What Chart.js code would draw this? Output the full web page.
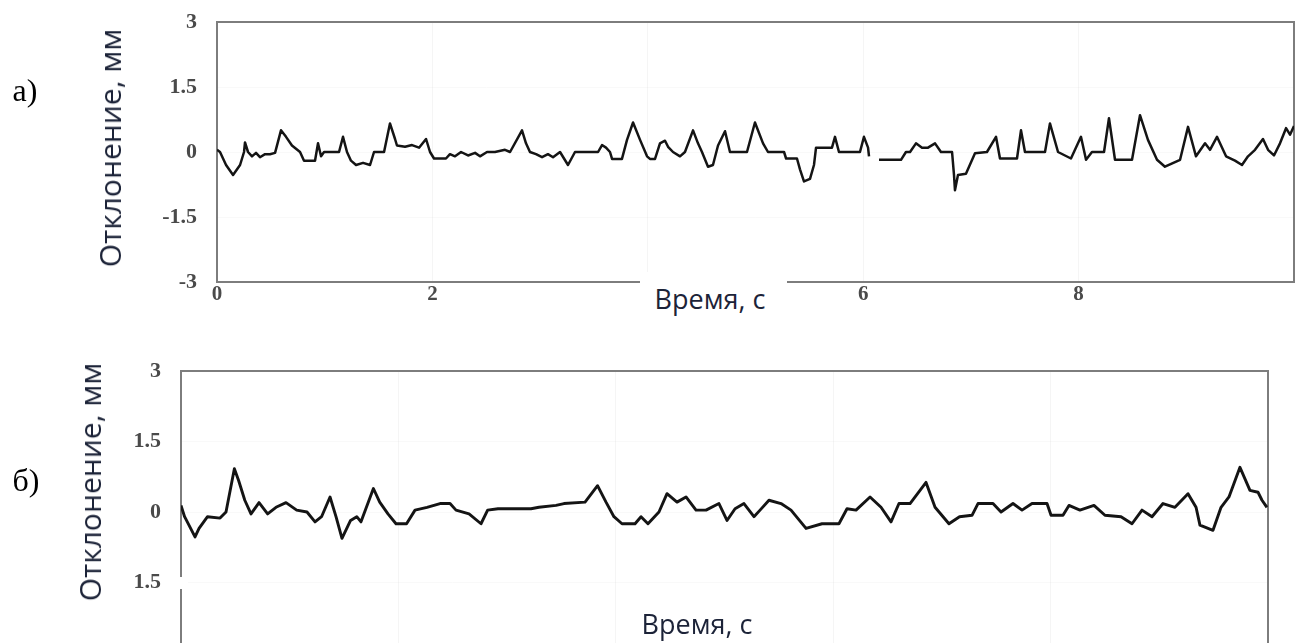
<!DOCTYPE html>
<html>
<head>
<meta charset="utf-8">
<script src="https://cdn.jsdelivr.net/npm/chart.js@4.4.1/dist/chart.umd.min.js"></script>
<style>
  html, body { margin: 0; padding: 0; background: #ffffff; overflow: hidden; width: 1296px; height: 643px; }
  #wrapA { position: absolute; left: 0; top: 0; width: 1296px; height: 320px; }
  #wrapB { position: absolute; left: 0; top: 320px; width: 1296px; height: 345px; }
  canvas { display: block; }
  .lbl { position: absolute; white-space: nowrap; line-height: 1; transform: translate(-50%, -50%); }
  .panel { font-family: "Liberation Serif", "Times New Roman", serif; font-size: 32px; color: #000; }
  .ytitle { font-family: "Open Sans", "Noto Sans", sans-serif; font-size: 30px; color: #1c2338; transform: translate(-50%, -50%) rotate(-90deg); }
  .xtitle { font-family: "Open Sans", "Noto Sans", sans-serif; font-size: 27px; color: #1c2338; background: #ffffff; }
  .gap { position: absolute; background: #ffffff; }
</style>
</head>
<body>
<div id="wrapA"><canvas id="chartA" width="1296" height="320"></canvas></div>
<div id="wrapB"><canvas id="chartB" width="1296" height="345"></canvas></div>

<div class="lbl panel" style="left:25px; top:90px;">а)</div>
<div class="lbl panel" style="left:26px; top:480px;">б)</div>
<div class="lbl ytitle" style="left:110px; top:148px;">Отклонение, мм</div>
<div class="lbl ytitle" style="left:90px; top:482px;">Отклонение, мм</div>
<div class="gap" style="left:640px; top:272px; width:147px; height:46px;"></div>
<div class="lbl xtitle" style="left:710px; top:298px;">Время, с</div>
<div class="lbl xtitle" style="left:697px; top:623px;">Время, с</div>
<div class="gap" style="left:174px; top:577px; width:14px; height:12px;"></div>

<script>
// ---------- DATA ----------
// Panel a): time (s) and deviation (mm)
const TIME_A = [
  0.000, 0.028, 0.084, 0.149, 0.214, 0.251, 0.260, 0.288, 0.325, 0.362,
  0.399, 0.446, 0.492, 0.539, 0.594, 0.641, 0.696, 0.771, 0.808, 0.910,
  0.938, 0.966, 0.994, 1.040, 1.133, 1.170, 1.207, 1.244, 1.291, 1.356,
  1.421, 1.458, 1.551, 1.606, 1.653, 1.671, 1.746, 1.811, 1.876, 1.941,
  1.978, 2.015, 2.126, 2.163, 2.210, 2.266, 2.331, 2.396, 2.442, 2.507,
  2.581, 2.674, 2.721, 2.832, 2.869, 2.906, 2.962, 3.018, 3.073, 3.120,
  3.185, 3.259, 3.324, 3.538, 3.575, 3.612, 3.649, 3.668, 3.760, 3.807,
  3.863, 3.928, 3.993, 4.020, 4.067, 4.113, 4.160, 4.188, 4.234, 4.299,
  4.345, 4.420, 4.466, 4.503, 4.559, 4.605, 4.652, 4.717, 4.763, 4.921,
  4.995, 5.070, 5.116, 5.265, 5.284, 5.385, 5.413, 5.450, 5.506, 5.543,
  5.562, 5.710, 5.738, 5.775, 5.970, 6.007, 6.045, 6.054, 6.100, 6.147,
  6.351, 6.397, 6.435, 6.490, 6.546, 6.602, 6.667, 6.722, 6.825, 6.843,
  6.852, 6.880, 6.954, 7.038, 7.149, 7.233, 7.270, 7.428, 7.465, 7.502,
  7.688, 7.734, 7.809, 7.929, 8.022, 8.069, 8.124, 8.236, 8.282, 8.338,
  8.496, 8.570, 8.644, 8.728, 8.802, 8.942, 9.016, 9.090, 9.174, 9.220,
  9.285, 9.369, 9.452, 9.517, 9.573, 9.638, 9.712, 9.759, 9.814, 9.870,
  9.926, 9.963, 10.000
];
const DEV_A = [
  0.05, 0.00, -0.30, -0.53, -0.30, 0.00, 0.22, 0.00, -0.10, -0.02,
  -0.12, -0.05, -0.05, -0.02, 0.50, 0.35, 0.15, 0.00, -0.20, -0.20,
  0.20, -0.10, 0.00, 0.00, 0.00, 0.35, 0.00, -0.20, -0.30, -0.25,
  -0.30, 0.00, 0.00, 0.66, 0.30, 0.15, 0.12, 0.16, 0.10, 0.30,
  0.00, -0.15, -0.15, -0.05, -0.10, 0.00, -0.08, -0.02, -0.10, 0.00,
  0.00, 0.05, 0.00, 0.50, 0.20, 0.00, -0.05, -0.12, -0.05, -0.12,
  0.00, -0.30, 0.00, 0.00, 0.16, 0.10, 0.00, -0.16, -0.16, 0.28,
  0.68, 0.28, -0.10, -0.16, -0.16, 0.20, 0.26, 0.12, 0.00, -0.10,
  0.00, 0.50, 0.20, 0.00, -0.34, -0.30, 0.15, 0.48, 0.00, 0.00,
  0.68, 0.20, 0.00, 0.00, -0.15, -0.15, -0.40, -0.68, -0.62, -0.30,
  0.10, 0.10, 0.35, 0.00, 0.00, 0.35, 0.10, -0.10, null, -0.18,
  -0.18, 0.00, 0.00, 0.20, 0.10, 0.10, 0.20, 0.00, 0.00, -0.53,
  -0.88, -0.53, -0.50, -0.03, 0.00, 0.35, -0.15, -0.15, 0.50, 0.00,
  0.00, 0.66, 0.00, -0.15, 0.35, -0.18, 0.00, 0.00, 0.78, -0.18,
  -0.18, 0.85, 0.28, -0.18, -0.34, -0.18, 0.58, -0.10, 0.20, 0.05,
  0.35, -0.10, -0.20, -0.30, -0.10, 0.05, 0.30, 0.05, -0.08, 0.20,
  0.55, 0.40, 0.60
];

// Panel б): time (s) and deviation (mm)
const TIME_B = [
  0.000, 0.033, 0.129, 0.166, 0.244, 0.359, 0.414, 0.491, 0.530, 0.587,
  0.644, 0.718, 0.797, 0.874, 0.966, 1.064, 1.159, 1.233, 1.293, 1.371,
  1.426, 1.481, 1.560, 1.617, 1.656, 1.770, 1.828, 1.904, 1.978, 2.075,
  2.153, 2.263, 2.383, 2.475, 2.530, 2.650, 2.760, 2.821, 2.916, 3.220,
  3.293, 3.450, 3.523, 3.717, 3.832, 3.910, 3.983, 4.057, 4.177, 4.232,
  4.296, 4.397, 4.471, 4.563, 4.646, 4.738, 4.830, 4.949, 5.023, 5.097,
  5.179, 5.271, 5.327, 5.409, 5.520, 5.612, 5.750, 5.897, 6.053, 6.127,
  6.210, 6.339, 6.440, 6.532, 6.605, 6.707, 6.854, 6.937, 7.065, 7.162,
  7.277, 7.332, 7.470, 7.544, 7.654, 7.737, 7.829, 7.967, 8.004, 8.114,
  8.169, 8.270, 8.399, 8.500, 8.648, 8.749, 8.841, 8.933, 9.034, 9.144,
  9.264, 9.338, 9.374, 9.494, 9.568, 9.641, 9.742, 9.834, 9.908, 9.945,
  9.990
];
const DEV_B = [
  0.14, -0.10, -0.53, -0.35, -0.10, -0.13, 0.00, 0.92, 0.67, 0.25,
  -0.04, 0.20, -0.04, 0.10, 0.20, 0.04, 0.00, -0.21, -0.10, 0.32,
  -0.10, -0.56, -0.18, -0.10, -0.21, 0.50, 0.21, -0.04, -0.25, -0.25,
  0.04, 0.10, 0.18, 0.18, 0.04, -0.04, -0.25, 0.04, 0.07, 0.07,
  0.10, 0.14, 0.18, 0.21, 0.56, 0.21, -0.10, -0.25, -0.25, -0.10,
  -0.25, 0.00, 0.39, 0.21, 0.32, 0.04, 0.04, 0.18, -0.18, 0.07,
  0.18, -0.10, 0.04, 0.25, 0.18, 0.04, -0.35, -0.25, -0.25, 0.07,
  0.04, 0.32, 0.10, -0.21, 0.18, 0.18, 0.63, 0.10, -0.25, -0.10,
  -0.07, 0.18, 0.18, 0.00, 0.18, 0.04, 0.18, 0.18, -0.07, -0.07,
  0.14, 0.04, 0.14, -0.07, -0.10, -0.25, 0.04, -0.10, 0.18, 0.10,
  0.39, 0.10, -0.28, -0.39, 0.10, 0.32, 0.95, 0.46, 0.42, 0.25,
  0.10
];

// Tick values and their printed labels
const Y_TICK_VALUES = [3, 1.5, 0, -1.5, -3];
const Y_TICK_LABELS_A = ["3", "1.5", "0", "-1.5", "-3"];
const Y_TICK_LABELS_B = ["3", "1.5", "0", "1.5", "-3"];
const X_TICK_VALUES = [0, 2, 4, 6, 8, 10];
const X_TICK_LABELS_A = ["0", "2", "4", "6", "8", ""];

// ---------- HELPERS ----------
function toPoints(xs, ys) {
  return xs.map((x, i) => ({ x: x, y: ys[i] }));
}

function zeroPadding(s) {
  s.paddingTop = 0; s.paddingBottom = 0; s.paddingLeft = 0; s.paddingRight = 0;
}

const framePlugin = {
  id: 'frame',
  beforeDatasetsDraw(chart) {
    const a = chart.chartArea;
    const ctx = chart.ctx;
    ctx.save();
    ctx.strokeStyle = '#7d7d7d';
    ctx.lineWidth = 2;
    ctx.strokeRect(a.left, a.top, a.right - a.left, a.bottom - a.top);
    ctx.restore();
  }
};

function makeChart(canvasId, xs, ys, yLabels, xLabels, geom, lineWidth) {
  const ctx = document.getElementById(canvasId).getContext('2d');
  return new Chart(ctx, {
    type: 'line',
    data: {
      datasets: [{
        data: toPoints(xs, ys),
        borderColor: '#141414',
        borderWidth: lineWidth,
        borderJoinStyle: 'round',
        pointRadius: 0,
        pointHoverRadius: 0,
        tension: 0,
        spanGaps: false,
        fill: false
      }]
    },
    options: {
      responsive: false,
      animation: false,
      events: [],
      layout: { autoPadding: false, padding: { top: geom.top, right: geom.right, left: 0, bottom: 0 } },
      plugins: { legend: { display: false }, tooltip: { enabled: false } },
      scales: {
        x: {
          type: 'linear',
          min: 0, max: 10,
          afterBuildTicks: s => { s.ticks = X_TICK_VALUES.map(v => ({ value: v })); },
          afterFit: s => { s.height = geom.xHeight; zeroPadding(s); },
          border: { display: false },
          grid: { color: 'rgba(0,0,0,0.04)', drawTicks: false, lineWidth: 1 },
          ticks: {
            display: xLabels !== null,
            autoSkip: false,
            maxRotation: 0,
            padding: 0,
            color: '#4a4a4a',
            font: { family: '"Liberation Serif", serif', size: 21, weight: 'bold' },
            callback: (v) => {
              if (!xLabels) return '';
              const i = X_TICK_VALUES.indexOf(v);
              return i >= 0 ? xLabels[i] : '';
            }
          }
        },
        y: {
          type: 'linear',
          min: -3, max: 3,
          afterBuildTicks: s => { s.ticks = Y_TICK_VALUES.map(v => ({ value: v })); },
          afterFit: s => { s.width = geom.left; zeroPadding(s); },
          border: { display: false },
          grid: { color: 'rgba(0,0,0,0.025)', drawTicks: false, lineWidth: 1 },
          ticks: {
            autoSkip: false,
            padding: 20,
            color: '#4a4a4a',
            font: { family: '"Liberation Serif", serif', size: 22, weight: 'bold' },
            callback: (v) => {
              const i = Y_TICK_VALUES.indexOf(v);
              return i >= 0 ? yLabels[i] : '';
            }
          }
        }
      }
    },
    plugins: [framePlugin]
  });
}

// Panel a): plot area 217..1294 x 22..282 within a 1296x320 canvas
makeChart('chartA', TIME_A, DEV_A, Y_TICK_LABELS_A, X_TICK_LABELS_A,
  { left: 217, right: 2, top: 22, xHeight: 38 }, 2.5);

// Panel б): plot area 181..1268 x 51..333 within a 1296x345 canvas (bottom is cut off by the page)
makeChart('chartB', TIME_B, DEV_B, Y_TICK_LABELS_B, null,
  { left: 181, right: 28, top: 51, xHeight: 12 }, 2.9);
</script>
</body>
</html>
